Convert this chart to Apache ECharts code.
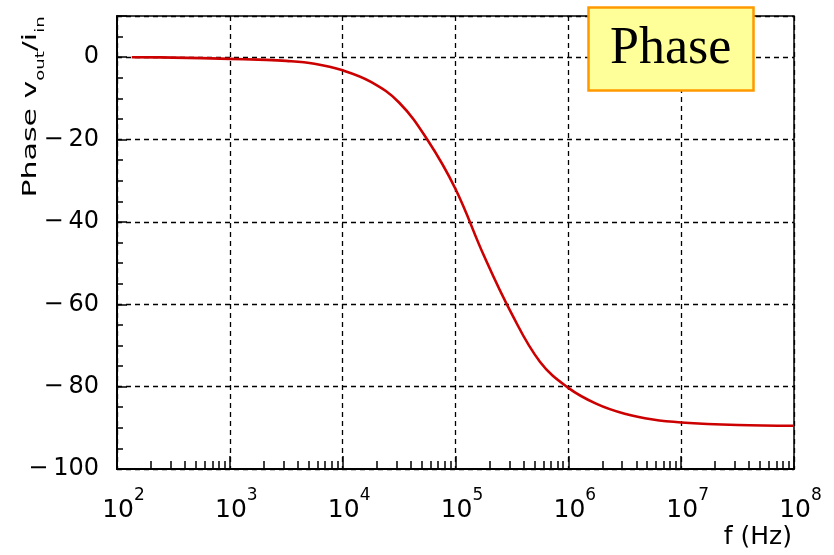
<!DOCTYPE html>
<html>
<head>
<meta charset="utf-8">
<script src="https://cdn.jsdelivr.net/npm/echarts@6/dist/echarts.min.js"></script>
<style>
html, body { margin: 0; padding: 0; background: #fff; }
#main { width: 834px; height: 555px; }
</style>
</head>
<body>
<div id="main"></div>
<script>
// values
var freqHz = [135, 316, 1000, 1780, 3160, 5620, 10000, 17800, 31600, 56200,
    100000, 178000, 316000, 562000, 1000000, 1780000, 3160000, 5620000,
    10000000, 31600000, 100000000];
var phaseDeg = [0, -0.1, -0.4, -0.6, -0.9, -1.6, -3.2, -6.0, -11.0, -20.0,
    -32.0, -48.1, -62.4, -74.0, -80.3, -84.2, -86.6, -88.0,
    -88.7, -89.3, -89.5];
var decades = [2, 3, 4, 5, 6, 7, 8];
var minorSteps = [2, 3, 4, 5, 6, 7, 8, 9];

var minorTicks = [];
decades.slice(0, -1).forEach(function (d) {
    minorSteps.forEach(function (m) {
        minorTicks.push(m * Math.pow(10, d));
    });
});

var myChart = echarts.init(document.getElementById('main'));

var option = {
    animation: false,
    title: {
        text: 'Phase',
        left: 588,
        top: 7,
        padding: [16, 22, 16, 22],
        backgroundColor: '#ffff99',
        borderColor: '#ff9900',
        borderWidth: 2.5,
        textStyle: {
            fontFamily: 'Liberation Serif',
            fontSize: 52,
            fontWeight: 'normal',
            color: '#000'
        }
    },
    grid: {
        left: 117,
        right: 40,
        top: 16,
        bottom: 86,
        show: true,
        borderColor: '#000',
        borderWidth: 1.5,
        outerBoundsMode: 'none'
    },
    xAxis: [{
        type: 'log',
        logBase: 10,
        min: 100,
        max: 100000000,
        axisLine: { onZero: false, lineStyle: { color: '#000', width: 2 } },
        axisTick: { inside: true, length: 13, lineStyle: { color: '#000', width: 1.5 } },
        axisLabel: {
            margin: 18,
            color: '#000',
            formatter: function (v) {
                return '{sp|}{b|10}{s|' + Math.round(Math.log10(v)) + '}';
            },
            rich: {
                sp: { width: 13, lineHeight: 36 },
                b: { fontFamily: 'DejaVu Sans', fontSize: 25, color: '#000', lineHeight: 36, verticalAlign: 'bottom' },
                s: { fontFamily: 'DejaVu Sans', fontSize: 17, color: '#000', lineHeight: 36, verticalAlign: 'top' }
            }
        },
        splitLine: { show: true, lineStyle: { color: '#000', type: [5, 4], width: 1.3 } }
    }, {
        type: 'log',
        logBase: 10,
        min: 100,
        max: 100000000,
        position: 'bottom',
        axisLine: { show: false, onZero: false },
        axisLabel: { show: false },
        splitLine: { show: false },
        axisTick: {
            inside: true,
            length: 8,
            customValues: minorTicks,
            lineStyle: { color: '#000', width: 1.5 }
        }
    }],
    yAxis: {
        type: 'value',
        min: -100,
        max: 10,
        interval: 20,
        axisLine: { show: true, onZero: false, lineStyle: { color: '#000', width: 2 } },
        axisTick: { inside: true, length: 10, lineStyle: { color: '#000', width: 1.5 } },
        minorTick: { show: true, splitNumber: 4, length: 6, lineStyle: { color: '#000', width: 1.5 } },
        axisLabel: {
            margin: 18,
            color: '#000',
            fontFamily: 'DejaVu Sans',
            fontSize: 24,
            formatter: function (v) {
                if (v > 0) return '';
                return v < 0 ? '\u2212\u2009' + Math.abs(v) : String(v);
            }
        },
        splitLine: { show: true, lineStyle: { color: '#000', type: [5, 4], width: 1.3 } }
    },
    graphic: [{
        type: 'text',
        x: 34,
        y: 107,
        rotation: Math.PI / 2,
        scaleX: 1.5,
        style: {
            text: '{a|Phase v}{s|out}{a|/i}{s|in}',
            align: 'center',
            verticalAlign: 'middle',
            rich: {
                a: { fontFamily: 'DejaVu Sans', fontSize: 20, fill: '#000', lineHeight: 26, verticalAlign: 'top' },
                s: { fontFamily: 'DejaVu Sans', fontSize: 12, fill: '#000', lineHeight: 26, verticalAlign: 'bottom' }
            }
        }
    }, {
        type: 'text',
        right: 42,
        top: 525,
        style: {
            text: 'f (Hz)',
            fontFamily: 'DejaVu Sans',
            fontSize: 25,
            fill: '#000'
        }
    }],
    series: [{
        type: 'line',
        xAxisIndex: 0,
        showSymbol: false,
        smooth: 0.4,
        lineStyle: { color: '#cc0000', width: 2.6 },
        data: freqHz.map(function (f, i) { return [f, phaseDeg[i]]; }),
        z: 3
    }]
};

myChart.setOption(option);
</script>
</body>
</html>
